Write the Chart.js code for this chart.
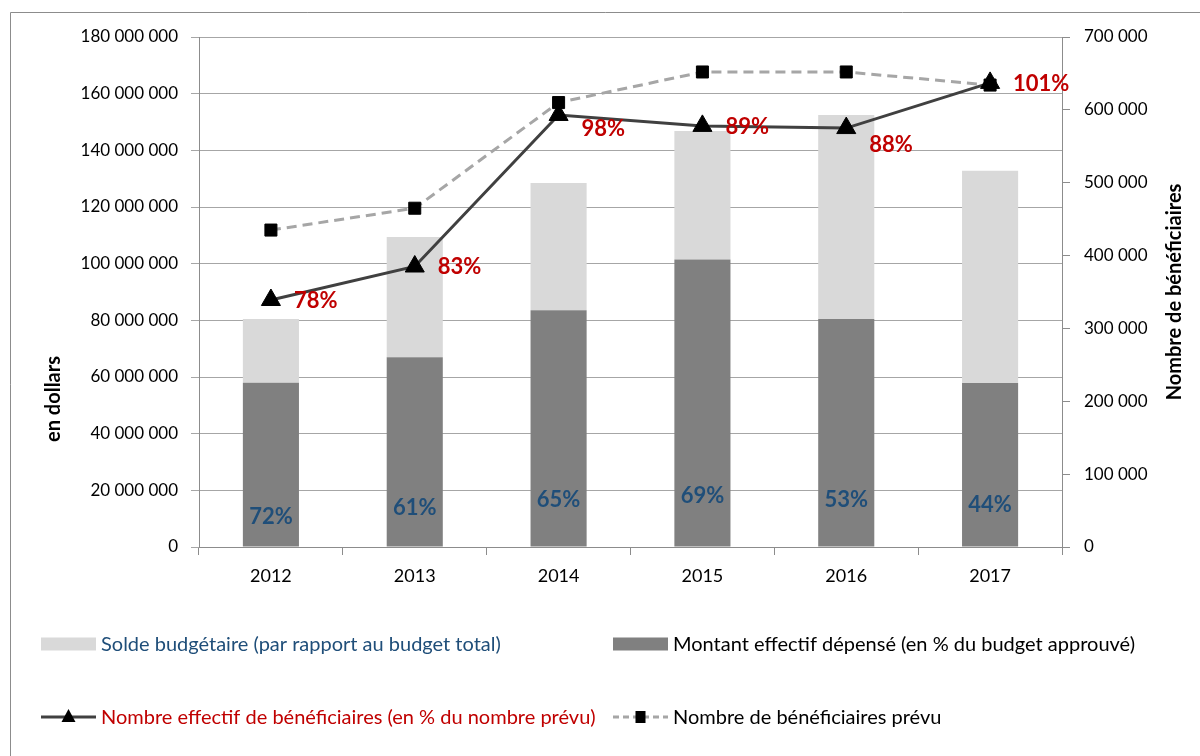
<!DOCTYPE html>
<html>
<head>
<meta charset="utf-8">
<script src="https://cdn.jsdelivr.net/npm/chart.js@4.4.1/dist/chart.umd.min.js"></script>
<style>
body { margin: 0; background: #fff; }
canvas { display: block; }
</style>
</head>
<body>
<canvas id="myChart" width="1200" height="756"></canvas>
<script>
var years = ['2012', '2013', '2014', '2015', '2016', '2017'];
var spent = [58000000, 67000000, 83600000, 101500000, 80500000, 57900000];
var balance = [22500000, 42400000, 44900000, 45300000, 72000000, 74900000];
var spentPct = ['72%', '61%', '65%', '69%', '53%', '44%'];
var actualBenef = [339000, 385000, 593000, 578000, 575000, 637000];
var plannedBenef = [435000, 465000, 610000, 652000, 652000, 634000];
var actualPct = ['78%', '83%', '98%', '89%', '88%', '101%'];

var FONT = 'Lato, "Noto Sans", sans-serif';

function fmt(v) {
    return String(v).replace(/\B(?=(\d{3})+(?!\d))/g, ' ');
}

// labels, axis titles, legend and frame drawn on the canvas
var decor = {
    id: 'decor',
    beforeDraw: function(chart) {
        var ctx = chart.ctx;
        ctx.save();
        ctx.fillStyle = '#fff';
        ctx.fillRect(0, 0, chart.width, chart.height);
        ctx.strokeStyle = '#8c8c8c';
        ctx.lineWidth = 1;
        ctx.beginPath();
        ctx.moveTo(10.5, chart.height);
        ctx.lineTo(10.5, 12.5);
        ctx.lineTo(chart.width, 12.5);
        ctx.stroke();
        ctx.restore();
    },
    afterDatasetsDraw: function(chart, args, opts) {
        var ctx = chart.ctx;
        var xs = chart.scales.x, ys = chart.scales.y, y1 = chart.scales.y1;
        ctx.save();
        ctx.font = 'bold 22px ' + FONT;
        ctx.textBaseline = 'middle';
        ctx.textAlign = 'center';
        ctx.fillStyle = '#1F4E79';
        for (var i = 0; i < years.length; i++) {
            ctx.fillText(spentPct[i], xs.getPixelForValue(i), ys.getPixelForValue(15000000) + opts.barNudge[i]);
        }
        ctx.textAlign = 'left';
        ctx.fillStyle = '#C00000';
        for (i = 0; i < years.length; i++) {
            ctx.fillText(actualPct[i], xs.getPixelForValue(i) + 23, y1.getPixelForValue(actualBenef[i]) + opts.lineNudge[i]);
        }
        ctx.restore();
    },
    afterDraw: function(chart, args, opts) {
        var ctx = chart.ctx;
        var area = chart.chartArea;
        var ds = chart.data.datasets;
        ctx.save();

        // axis titles
        ctx.font = 'bold 20px ' + FONT;
        ctx.fillStyle = '#000';
        ctx.textAlign = 'center';
        ctx.textBaseline = 'middle';
        ctx.save();
        ctx.translate(54, 399);
        ctx.rotate(-Math.PI / 2);
        ctx.fillText('en dollars', 0, 0);
        ctx.restore();
        ctx.save();
        ctx.translate(1175, (area.top + area.bottom) / 2);
        ctx.rotate(-Math.PI / 2);
        ctx.fillText('Nombre de bénéficiaires', 0, 0);
        ctx.restore();

        // legend
        var items = [
            {ds: ds[1], col: 0, row: 0, color: '#1F4E79'},
            {ds: ds[0], col: 1, row: 0, color: '#000'},
            {ds: ds[2], col: 0, row: 1, color: '#C00000'},
            {ds: ds[3], col: 1, row: 1, color: '#000'}
        ];
        ctx.font = '20px ' + FONT;
        ctx.textAlign = 'left';
        items.forEach(function(it) {
            var x = opts.legendCols[it.col], y = opts.legendRows[it.row];
            var d = it.ds;
            if (d.type === 'bar') {
                ctx.fillStyle = d.backgroundColor;
                ctx.fillRect(x, y - 6.5, 55, 13);
            } else {
                ctx.save();
                ctx.strokeStyle = d.borderColor;
                ctx.lineWidth = 3;
                if (d.borderDash) ctx.setLineDash([6, 4]);
                ctx.beginPath();
                ctx.moveTo(x, y);
                ctx.lineTo(x + 55, y);
                ctx.stroke();
                ctx.restore();
                ctx.fillStyle = '#000';
                var cx = x + 27.5;
                if (d.pointStyle === 'triangle') {
                    ctx.beginPath();
                    ctx.moveTo(cx, y - 8);
                    ctx.lineTo(cx + 7, y + 5);
                    ctx.lineTo(cx - 7, y + 5);
                    ctx.closePath();
                    ctx.fill();
                } else {
                    ctx.fillRect(cx - 5, y - 6, 10, 12);
                }
            }
            ctx.fillStyle = it.color;
            ctx.fillText(d.label, x + 60, y + 1);
        });
        ctx.restore();
    }
};

var data = {
    labels: years,
    datasets: [{
        type: 'bar',
        label: 'Montant effectif dépensé (en % du budget approuvé)',
        data: spent,
        backgroundColor: '#808080',
        yAxisID: 'y',
        stack: 'budget',
        order: 2,
        barPercentage: 0.39,
        categoryPercentage: 1
    }, {
        type: 'bar',
        label: 'Solde budgétaire (par rapport au budget total)',
        data: balance,
        backgroundColor: '#D9D9D9',
        yAxisID: 'y',
        stack: 'budget',
        order: 3,
        barPercentage: 0.39,
        categoryPercentage: 1
    }, {
        type: 'line',
        label: 'Nombre effectif de bénéficiaires (en % du nombre prévu)',
        data: actualBenef,
        yAxisID: 'y1',
        borderColor: '#404040',
        borderWidth: 3,
        pointStyle: 'triangle',
        pointRadius: 11,
        pointBackgroundColor: '#000',
        pointBorderColor: '#000',
        pointBorderWidth: 1,
        tension: 0,
        order: 0
    }, {
        type: 'line',
        label: 'Nombre de bénéficiaires prévu',
        data: plannedBenef,
        yAxisID: 'y1',
        borderColor: '#A6A6A6',
        borderWidth: 3,
        borderDash: [10, 6],
        pointStyle: 'rect',
        pointRadius: 8.5,
        pointBackgroundColor: '#000',
        pointBorderColor: '#000',
        pointBorderWidth: 1,
        tension: 0,
        order: 1
    }]
};

var config = {
    type: 'bar',
    data: data,
    plugins: [decor],
    options: {
        responsive: false,
        animation: false,
        devicePixelRatio: 1,
        layout: { padding: { top: 37, bottom: 159, left: 0, right: 0 } },
        plugins: {
            legend: { display: false },
            tooltip: { enabled: false },
            decor: {
                barNudge: [12, 3, -5, -9, -5, 0],
                lineNudge: [1, 0, 14, 1, 17, 1],
                legendCols: [41, 613],
                legendRows: [644, 717]
            }
        },
        scales: {
            x: {
                stacked: true,
                offset: true,
                grid: { drawOnChartArea: false, drawTicks: true, tickLength: 8, color: '#8c8c8c', offset: true },
                border: { color: '#8c8c8c' },
                ticks: { color: '#000', font: { family: FONT, size: 18 }, padding: 10 },
                afterFit: function(s) { s.height = 50; }
            },
            y: {
                stacked: true,
                min: 0,
                max: 180000000,
                ticks: { stepSize: 20000000, color: '#000', font: { family: FONT, size: 17 }, padding: 13, callback: function(v) { return fmt(v); } },
                grid: { color: '#a6a6a6', tickLength: 8 },
                border: { color: '#8c8c8c' },
                afterFit: function(s) { s.width = 199; }
            },
            y1: {
                position: 'right',
                min: 0,
                max: 700000,
                ticks: { stepSize: 100000, color: '#000', font: { family: FONT, size: 17 }, padding: 14, callback: function(v) { return fmt(v); } },
                grid: { drawOnChartArea: false, tickLength: 8, color: '#8c8c8c' },
                border: { color: '#8c8c8c' },
                afterFit: function(s) { s.width = 138; }
            }
        }
    }
};

var myChart = new Chart(document.getElementById('myChart'), config);
</script>
</body>
</html>
